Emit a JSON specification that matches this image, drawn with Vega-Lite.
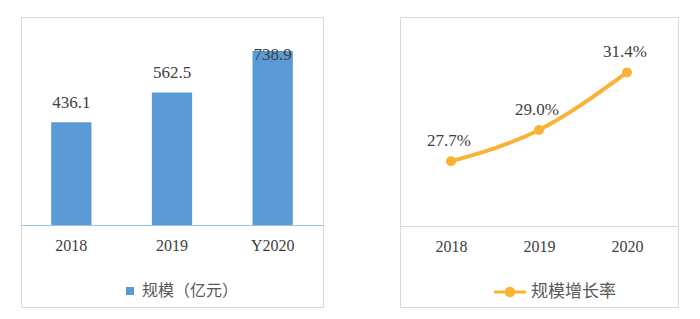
{
  "$schema": "https://vega.github.io/schema/vega-lite/v6.json",
  "background": "white",
  "padding": {"left": 20, "top": 16, "right": 24, "bottom": 12},
  "spacing": 75,
  "config": {
    "view": {"stroke": "#d9d9d9", "strokeWidth": 1},
    "axis": {"labelFont": "Liberation Serif", "labelFontSize": 16, "labelColor": "#404040", "ticks": false, "grid": false, "title": null, "labelAngle": 0, "labelPadding": 12}
  },
  "datasets": {
    "scale": [
      {"year": "2018", "value": 436.1, "series": "规模（亿元）"},
      {"year": "2019", "value": 562.5, "series": "规模（亿元）"},
      {"year": "Y2020", "value": 738.9, "series": "规模（亿元）"}
    ],
    "growth": [
      {"year": "2018", "rate": 27.7, "label": "27.7%", "series": "规模增长率"},
      {"year": "2019", "rate": 29.0, "label": "29.0%", "series": "规模增长率"},
      {"year": "2020", "rate": 31.4, "label": "31.4%", "series": "规模增长率"}
    ]
  },
  "hconcat": [
    {
      "width": 302,
      "height": 290,
      "data": {"name": "scale"},
      "encoding": {
        "x": {"field": "year", "type": "nominal", "sort": null,
              "scale": {"type": "band", "paddingInner": 0.6, "paddingOuter": 0.3},
              "axis": {"orient": "bottom", "offset": -82, "domainColor": "#9dc3e6", "domainWidth": 1}}
      },
      "layer": [
        {
          "mark": {"type": "bar", "color": "#5b9bd5"},
          "encoding": {
            "y": {"field": "value", "type": "quantitative", "scale": {"domain": [0, 883], "range": [208, 0], "nice": false, "zero": true}, "axis": null},
            "color": {"field": "series", "type": "nominal", "scale": {"range": ["#5b9bd5"]},
                      "legend": {"title": null, "orient": "none", "legendX": 101, "legendY": 266, "symbolType": "square", "symbolSize": 64, "labelFont": "Noto Sans CJK SC", "labelFontSize": 16, "labelColor": "#595959", "labelOffset": 4}}
          }
        },
        {
          "mark": {"type": "text", "font": "Liberation Serif", "fontSize": 17, "color": "#404040", "baseline": "middle"},
          "encoding": {
            "y": {"field": "value", "type": "quantitative", "scale": {"domain": [-82, 639.7], "range": [208, 38], "nice": false, "zero": false, "clamp": true}, "axis": null},
            "text": {"field": "value", "type": "quantitative", "format": ".1f"}
          }
        }
      ],
      "resolve": {"scale": {"y": "independent"}}
    },
    {
      "width": 278,
      "height": 290,
      "data": {"name": "growth"},
      "encoding": {
        "x": {"field": "year", "type": "nominal", "sort": null,
              "scale": {"type": "point", "padding": 0.58},
              "axis": {"orient": "bottom", "offset": -81, "domainColor": "#d9d9d9", "domainWidth": 1}},
        "y": {"field": "rate", "type": "quantitative", "scale": {"domain": [25, 33.71], "range": [209, 0], "nice": false, "zero": false}, "axis": null}
      },
      "layer": [
        {
          "mark": {"type": "line", "color": "#fbb335", "strokeWidth": 4, "interpolate": "monotone"}
        },
        {
          "mark": {"type": "point", "filled": true, "opacity": 1, "size": 100},
          "encoding": {
            "color": {"field": "series", "type": "nominal", "scale": {"range": ["#fbb335"]},
                      "legend": {"title": null, "orient": "none", "legendX": 94, "legendY": 259, "symbolType": "M-1,-0.1H1V0.1H-1Z M0.33,0A0.33,0.33 0 1,1 -0.33,0A0.33,0.33 0 1,1 0.33,0Z", "symbolSize": 1024, "symbolStrokeWidth": 0, "labelFont": "Noto Sans CJK SC", "labelFontSize": 17, "labelColor": "#595959", "labelOffset": 5}}
          }
        },
        {
          "mark": {"type": "text", "font": "Liberation Serif", "fontSize": 17, "color": "#404040", "baseline": "middle", "dy": -20, "dx": -2},
          "encoding": {"text": {"field": "label", "type": "nominal"}}
        }
      ]
    }
  ],
  "resolve": {"scale": {"color": "independent"}, "legend": {"color": "independent"}}
}
